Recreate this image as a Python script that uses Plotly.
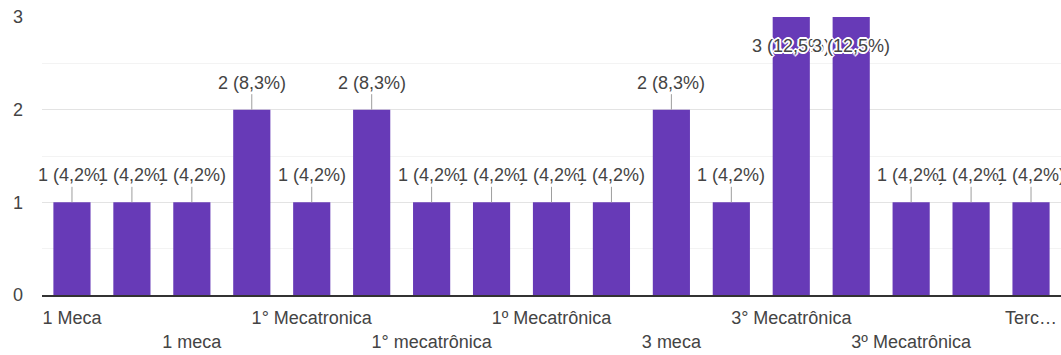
import plotly.graph_objects as go

categories = [
    "1 Meca", "1 Mecatrônica", "1 meca", "1 mecatrônica",
    "1° Mecatronica", "1° Mecatrônica", "1° mecatrônica", "1º Mecatronica",
    "1º Mecatrônica", "1º mecatrônica", "3 meca", "3 mecatrônica",
    "3° Mecatrônica", "3° mecatrônica", "3º Mecatrônica", "3º mecatrônica",
    "Terceiro Mecatrônica",
]
counts = [1, 1, 1, 2, 1, 2, 1, 1, 1, 1, 2, 1, 3, 3, 1, 1, 1]
shown_labels = [
    "1 Meca", "", "1 meca", "", "1° Mecatronica", "", "1° mecatrônica", "",
    "1º Mecatrônica", "", "3 meca", "", "3° Mecatrônica", "", "3º Mecatrônica", "",
    "Terc…",
]
y_ticks = [0, 1, 2, 3]

total = sum(counts)
y_max = max(y_ticks)
FONT = "Arial, 'Liberation Sans', sans-serif"
TXT = "#444444"

fig = go.Figure(go.Bar(
    x=categories, y=counts, marker=dict(color="#673ab7", line=dict(width=0)),
    hoverinfo="skip",
))

# staggered tick labels (every second shown label goes to second row)
ticktext = []
row = 0
for lab in shown_labels:
    if lab:
        ticktext.append(lab if row % 2 == 0 else "<br>" + lab)
        row += 1
    else:
        ticktext.append("")

shadow = "1px 1px 0 white, -1px -1px 0 white, 1px -1px 0 white, -1px 1px 0 white, 0 2px 0 white, 0 -2px 0 white, 2px 0 0 white, -2px 0 0 white"
for c, v in zip(categories, counts):
    pct = f"{100 * v / total:.1f}".replace(".", ",")
    inside = v >= y_max
    fig.add_annotation(
        x=c, y=v, text=f"{v} ({pct}%)",
        showarrow=True, arrowhead=0, arrowwidth=1, arrowcolor="#9e9e9e",
        ax=0, ay=29 if inside else -27,
        font=dict(family=FONT, size=18, color=TXT, shadow=shadow),
    )

fig.update_layout(
    width=1061, height=355,
    margin=dict(l=42, r=0, t=17, b=60, autoexpand=False),
    paper_bgcolor="white", plot_bgcolor="white",
    bargap=0.38, showlegend=False,
    font=dict(family=FONT, size=18, color=TXT),
)
fig.update_xaxes(
    range=[-0.5, len(categories) - 0.5], domain=[0, 1],
    tickmode="array", tickvals=categories, ticktext=ticktext, tickangle=0,
    showline=True, linecolor="#333333", linewidth=1.5, showgrid=False,
    ticks="", ticklabelstandoff=6, automargin=False,
    tickfont=dict(family=FONT, size=18, color=TXT),
)
fig.update_yaxes(
    range=[0, y_max], tickmode="array", tickvals=y_ticks,
    showgrid=True, gridcolor="#e3e3e3", gridwidth=1, zeroline=False,
    minor=dict(dtick=0.5, showgrid=True, gridcolor="#f3f3f3", gridwidth=1),
    ticks="", ticklabelstandoff=18, automargin=False,
    tickfont=dict(family=FONT, size=18, color=TXT),
)

fig.write_html("out.html")
